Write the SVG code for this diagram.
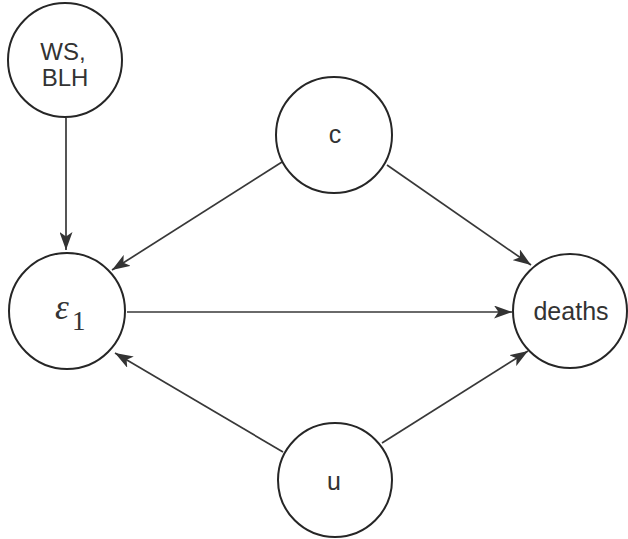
<svg xmlns="http://www.w3.org/2000/svg" width="628" height="539" viewBox="0 0 628 539">
<style>
.node{fill:#fff;stroke:#262626;stroke-width:2}
.edge{stroke:#383838;stroke-width:1.7;fill:none;marker-end:url(#arr)}
.lbl{font-family:"Liberation Sans",Arial,sans-serif;font-size:24px;fill:#333;text-anchor:middle}
</style>
<defs>
<marker id="arr" viewBox="0 0 18 13" refX="18" refY="6.5" markerWidth="18" markerHeight="13" markerUnits="userSpaceOnUse" orient="auto">
<path d="M0,0 L18,6.5 L0,13 L4.5,6.5 z" fill="#333"/>
</marker>
</defs>
<rect width="628" height="539" fill="#fff"/>
<g id="edges">
<line class="edge" x1="66" y1="118" x2="66" y2="250"/>
<line class="edge" x1="282" y1="162" x2="112" y2="270"/>
<line class="edge" x1="387" y1="165" x2="531" y2="265"/>
<line class="edge" x1="127" y1="312" x2="512" y2="312"/>
<line class="edge" x1="283" y1="452" x2="115" y2="353"/>
<line class="edge" x1="382" y1="443" x2="528" y2="351"/>
</g>
<g id="ws_blh">
<circle class="node" cx="65" cy="60" r="57"/>
<text class="lbl" x="63" y="60">WS,</text>
<text class="lbl" x="65" y="86">BLH</text>
</g>
<g id="c">
<circle class="node" cx="334" cy="135" r="58"/>
<text class="lbl" x="335" y="143" style="font-size:25px">c</text>
</g>
<g id="eps1">
<circle class="node" cx="67" cy="311" r="58"/>
<text x="55" y="319" style="font-family:'Liberation Serif',serif;font-style:italic;font-size:35px;fill:#333">ε</text>
<text x="72" y="330" style="font-family:'Liberation Serif',serif;font-size:27px;fill:#333">1</text>
</g>
<g id="deaths">
<circle class="node" cx="570" cy="311" r="57"/>
<text class="lbl" x="571" y="320" style="font-size:25px">deaths</text>
</g>
<g id="u">
<circle class="node" cx="335" cy="480" r="57"/>
<text class="lbl" x="334" y="490" style="font-size:25px">u</text>
</g>
</svg>
